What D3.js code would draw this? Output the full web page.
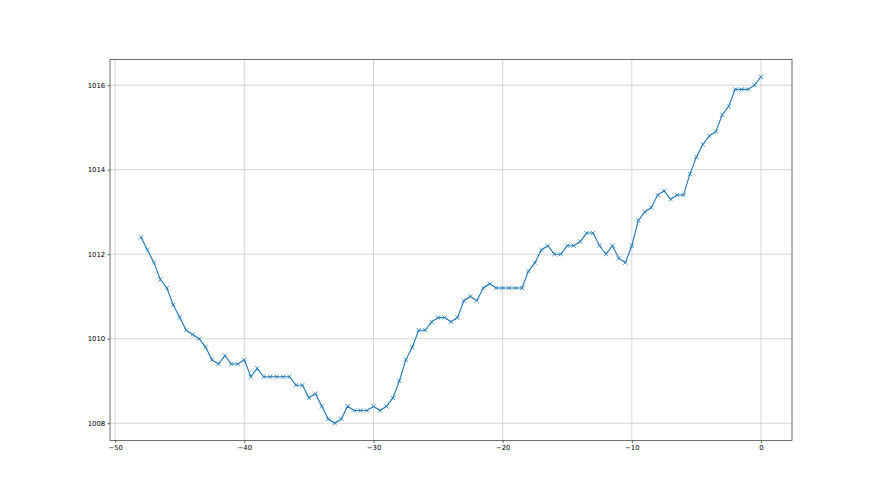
<!DOCTYPE html>
<html>
<head>
<meta charset="utf-8">
<script src="https://cdn.jsdelivr.net/npm/d3@7"></script>
<style>
	html, body { margin: 0; padding: 0; background: #ffffff; }
	svg { display: block; }
	.tick text { font-family: "DejaVu Sans", sans-serif; font-size: 6.9px; fill: #000; }
</style>
</head>
<body>
<div id="idContent"></div>
<script>
// hours before now
var aHours = [
	-48, -47.5, -47, -46.5, -46, -45.5, -45, -44.5, -44, -43.5,
	-43, -42.5, -42, -41.5, -41, -40.5, -40, -39.5, -39, -38.5,
	-38, -37.5, -37, -36.5, -36, -35.5, -35, -34.5, -34, -33.5,
	-33, -32.5, -32, -31.5, -31, -30.5, -30, -29.5, -29, -28.5,
	-28, -27.5, -27, -26.5, -26, -25.5, -25, -24.5, -24, -23.5,
	-23, -22.5, -22, -21.5, -21, -20.5, -20, -19.5, -19, -18.5,
	-18, -17.5, -17, -16.5, -16, -15.5, -15, -14.5, -14, -13.5,
	-13, -12.5, -12, -11.5, -11, -10.5, -10, -9.5, -9, -8.5,
	-8, -7.5, -7, -6.5, -6, -5.5, -5, -4.5, -4, -3.5,
	-3, -2.5, -2, -1.5, -1, -0.5, 0
];

// pressure (hPa)
var aPressure = [
	1012.4, 1012.1, 1011.8, 1011.4, 1011.2, 1010.8, 1010.5, 1010.2, 1010.1, 1010.0,
	1009.8, 1009.5, 1009.4, 1009.6, 1009.4, 1009.4, 1009.5, 1009.1, 1009.3, 1009.1,
	1009.1, 1009.1, 1009.1, 1009.1, 1008.9, 1008.9, 1008.6, 1008.7, 1008.4, 1008.1,
	1008.0, 1008.1, 1008.4, 1008.3, 1008.3, 1008.3, 1008.4, 1008.3, 1008.4, 1008.6,
	1009.0, 1009.5, 1009.8, 1010.2, 1010.2, 1010.4, 1010.5, 1010.5, 1010.4, 1010.5,
	1010.9, 1011.0, 1010.9, 1011.2, 1011.3, 1011.2, 1011.2, 1011.2, 1011.2, 1011.2,
	1011.6, 1011.8, 1012.1, 1012.2, 1012.0, 1012.0, 1012.2, 1012.2, 1012.3, 1012.5,
	1012.5, 1012.2, 1012.0, 1012.2, 1011.9, 1011.8, 1012.2, 1012.8, 1013.0, 1013.1,
	1013.4, 1013.5, 1013.3, 1013.4, 1013.4, 1013.9, 1014.3, 1014.6, 1014.8, 1014.9,
	1015.3, 1015.5, 1015.9, 1015.9, 1015.9, 1016.0, 1016.2
];

var aXTicks = [-50, -40, -30, -20, -10, 0];
var aYTicks = [1008, 1010, 1012, 1014, 1016];

function createGraph() {
	var totalW = 880, totalH = 495;
	var margin = { top: 59.4, right: 88, bottom: 54.45, left: 110 },
		width = totalW - margin.left - margin.right,
		height = totalH - margin.top - margin.bottom;

	var aData = aHours.map(function (h, i) { return { x: h, y: aPressure[i] }; });

	// matplotlib style 5% margins
	var xMin = d3.min(aHours), xMax = d3.max(aHours);
	var yMin = d3.min(aPressure), yMax = d3.max(aPressure);
	var xPad = (xMax - xMin) * 0.05, yPad = (yMax - yMin) * 0.05;

	var x = d3.scaleLinear().domain([xMin - xPad, xMax + xPad]).range([0, width]);
	var y = d3.scaleLinear().domain([yMin - yPad, yMax + yPad]).range([height, 0]);

	var svg = d3.select("#idContent").append("svg")
		.attr("width", totalW)
		.attr("height", totalH);

	var oChart = svg.append("g")
		.attr("transform", "translate(" + margin.left + "," + margin.top + ")");

	// grid
	oChart.append("g")
		.selectAll("line.vgrid")
		.data(aXTicks)
		.enter().append("line")
		.attr("x1", function (d) { return x(d); })
		.attr("x2", function (d) { return x(d); })
		.attr("y1", 0).attr("y2", height)
		.attr("stroke", "#c4c4c4").attr("stroke-width", 0.7);

	oChart.append("g")
		.selectAll("line.hgrid")
		.data(aYTicks)
		.enter().append("line")
		.attr("y1", function (d) { return y(d); })
		.attr("y2", function (d) { return y(d); })
		.attr("x1", 0).attr("x2", width)
		.attr("stroke", "#c4c4c4").attr("stroke-width", 0.7);

	// line
	var line = d3.line()
		.x(function (d) { return x(d.x); })
		.y(function (d) { return y(d.y); });

	oChart.append("path")
		.datum(aData)
		.attr("fill", "none")
		.attr("stroke", "#1f77b4")
		.attr("stroke-width", 1.1)
		.attr("d", line);

	// x markers
	var m = 2.1;
	oChart.selectAll(".marker")
		.data(aData)
		.enter().append("path")
		.attr("class", "marker")
		.attr("d", function (d) {
			var cx = x(d.x), cy = y(d.y);
			return "M" + (cx - m) + "," + (cy - m) + "L" + (cx + m) + "," + (cy + m) +
				"M" + (cx - m) + "," + (cy + m) + "L" + (cx + m) + "," + (cy - m);
		})
		.attr("stroke", "#1f77b4")
		.attr("stroke-width", 0.8)
		.attr("fill", "none");

	// axes
	var xAxis = oChart.append("g")
		.attr("transform", "translate(0," + height + ")")
		.call(d3.axisBottom(x).tickValues(aXTicks).tickSize(2.4).tickPadding(2.4)
			.tickFormat(function (d) { return d < 0 ? "\u2212" + Math.abs(d) : d; }));

	var yAxis = oChart.append("g")
		.call(d3.axisLeft(y).tickValues(aYTicks).tickSize(2.4).tickPadding(2.4)
			.tickFormat(d3.format("d")));

	[xAxis, yAxis].forEach(function (a) {
		a.select(".domain").remove();
		a.selectAll(".tick line").attr("stroke", "#000").attr("stroke-width", 0.6);
	});

	// frame
	oChart.append("rect")
		.attr("x", 0).attr("y", 0)
		.attr("width", width).attr("height", height)
		.attr("fill", "none")
		.attr("stroke", "#333")
		.attr("stroke-width", 0.7);
}

createGraph();
</script>
</body>
</html>
